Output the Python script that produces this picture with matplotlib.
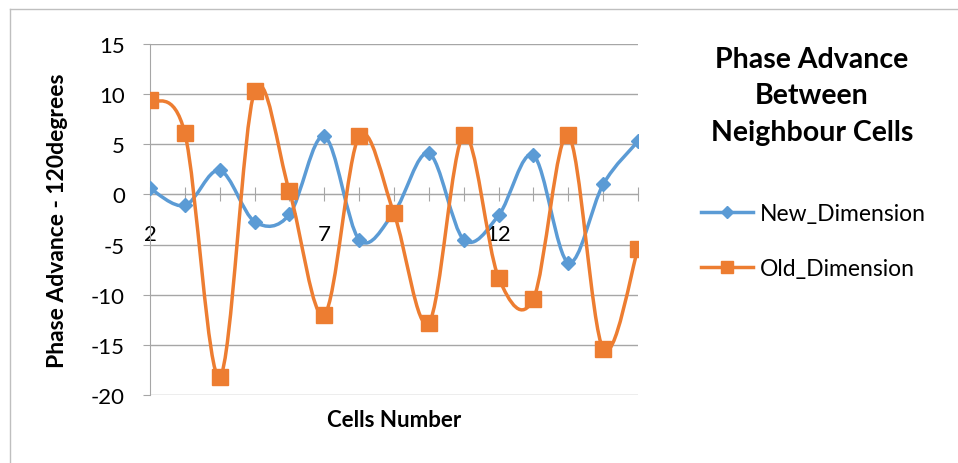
import matplotlib
matplotlib.use("Agg")
import matplotlib.pyplot as plt
from matplotlib.path import Path
from matplotlib.patches import PathPatch
from matplotlib.lines import Line2D

plt.rcParams['font.family'] = ['Lato', 'DejaVu Sans']
plt.rcParams['axes.unicode_minus'] = False

cells = list(range(2, 17))
new_dimension = [0.6, -1.1, 2.4, -2.7, -2.0, 5.8, -4.5, -1.8, 4.1, -4.5, -2.1, 3.9, -6.8, 1.0, 5.3]
old_dimension = [9.4, 6.1, -18.2, 10.3, 0.3, -12.0, 5.8, -1.9, -12.8, 5.9, -8.3, -10.4, 5.9, -15.4, -5.4]
x_tick_labels = ["2", "7", "12"]

BLUE = "#5B9BD5"
ORANGE = "#ED7D31"
GRID = "#A6A6A6"


def smooth_path(xs, ys):
    # bezier segments through every point, spreadsheet-style smoothing
    pts = list(zip(xs, ys))
    verts = [pts[0]]
    codes = [Path.MOVETO]
    n = len(pts)
    for i in range(n - 1):
        p0 = pts[i - 1] if i > 0 else pts[i]
        p1 = pts[i]
        p2 = pts[i + 1]
        p3 = pts[i + 2] if i + 2 < n else pts[i + 1]
        c1 = (p1[0] + (p2[0] - p0[0]) / 6, p1[1] + (p2[1] - p0[1]) / 6)
        c2 = (p2[0] - (p3[0] - p1[0]) / 6, p2[1] - (p3[1] - p1[1]) / 6)
        verts += [c1, c2, p2]
        codes += [Path.CURVE4] * 3
    return Path(verts, codes)


fig = plt.figure(figsize=(9.58, 4.64), dpi=100)
ax = fig.add_axes([150 / 958, 1 - 396 / 464, 488 / 958, 351 / 464])

series = [
    (new_dimension, BLUE, "D", 7, "New_Dimension"),
    (old_dimension, ORANGE, "s", 11, "Old_Dimension"),
]
handles = []
for k, (vals, col, mk, ms, name) in enumerate(series):
    ax.add_patch(PathPatch(smooth_path(cells, vals), facecolor="none",
                           edgecolor=col, lw=2.5, zorder=3 + 2 * k,
                           capstyle="round", joinstyle="round"))
    ax.plot(cells, vals, linestyle="none", marker=mk, markersize=ms,
            color=col, zorder=4 + 2 * k)
    handles.append(Line2D([], [], color=col, lw=2.5, marker=mk,
                          markersize=ms * 0.85, label=name))

ax.set_xlim(2, 16)
ax.set_ylim(-20, 15)
ax.set_yticks(range(-20, 16, 5))
ax.set_xticks(cells)
ax.set_xticklabels([str(c) if str(c) in x_tick_labels else "" for c in cells])

ax.yaxis.grid(True, color=GRID, lw=1)
ax.set_axisbelow(True)
for s in ["top", "right"]:
    ax.spines[s].set_visible(False)
ax.spines["bottom"].set_position(("data", 0))
ax.spines["bottom"].set_color(GRID)
ax.spines["left"].set_color(GRID)
ax.tick_params(axis="x", direction="inout", length=10, color=GRID,
               labelsize=16, pad=16)
ax.tick_params(axis="y", direction="out", length=5, color=GRID,
               labelsize=16, pad=13)

ax.set_xlabel("Cells Number", fontsize=16, fontweight="bold")
ax.xaxis.set_label_coords(0.5, -0.04)
ax.set_ylabel("Phase Advance - 120degrees", fontsize=16.5, fontweight="bold")
ax.yaxis.set_label_coords(-0.168, 0.5)

fig.text(812 / 958, 1 - 96 / 464, "Phase Advance\nBetween\nNeighbour Cells",
         ha="center", va="center", fontsize=20.5, fontweight="bold",
         linespacing=1.5)

fig.legend(handles=handles, loc="center left",
           bbox_to_anchor=(680 / 958, 1 - 242 / 464), frameon=False,
           fontsize=16.5, handlelength=2.3, labelspacing=1.5,
           handletextpad=0.3)

# thin frame around the chart area
fig.add_artist(Line2D([10 / 958, 1], [1 - 10 / 464] * 2, color="#BFBFBF",
                      lw=1, transform=fig.transFigure))
fig.add_artist(Line2D([10 / 958] * 2, [0, 1 - 10 / 464], color="#BFBFBF",
                      lw=1, transform=fig.transFigure))

fig.savefig("out.png", dpi=100)
